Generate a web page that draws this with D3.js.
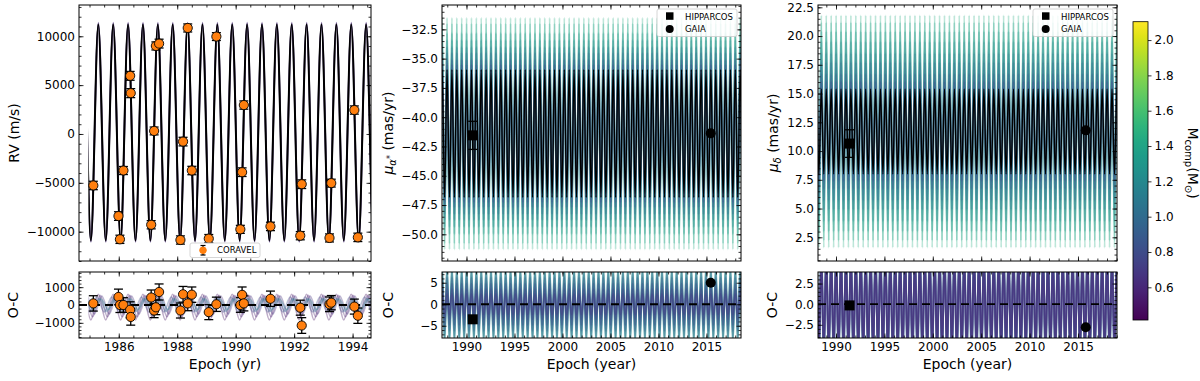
<!DOCTYPE html>
<html>
<head>
<meta charset="utf-8">
<script src="https://cdn.jsdelivr.net/npm/d3@7"></script>
<style>
  body { margin: 0; background: #fff; }
  text { font-family: "DejaVu Sans", sans-serif; }
</style>
</head>
<body>
<svg id="fig" width="1200" height="381"></svg>
<script>
// ---- data ----
var rvEpoch = [1985.13, 1985.99, 1986.04, 1986.16, 1986.39, 1986.41, 1987.11, 1987.21, 1987.27, 1987.38,
               1988.11, 1988.20, 1988.36, 1988.50, 1989.08, 1989.34, 1990.16, 1990.22, 1990.28, 1991.19,
               1992.21, 1992.26, 1993.21, 1993.27, 1994.06, 1994.18];
var rvValue = [-5270, -8400, -10780, -3740, 5950, 4180, -9290, 310, 9010, 9250,
               -10850, -780, 10850, -3740, -10710, 9970, -9760, -3910, 2960, -9460,
               -10410, -5140, -10640, -5030, 2450, -10580];
var rvResid = [90, 450, 0, 0, -270, -670, 420, -310, -130, 730,
               -310, 600, 90, 580, -400, 40, 0, 570, 90, 350,
               -150, -1150, 40, 130, -90, -600];
var rvErr = [430, 440, 420, 410, 450, 460, 420, 400, 410, 450,
             420, 440, 410, 430, 420, 400, 410, 440, 420, 430,
             420, 440, 410, 400, 420, 430];

// orbit model (best fit)
var orbitPeriod = 0.509;
var rvPeakEpoch = 1985.30;
var rvPeak = 11200, rvTrough = -10900;
var modelStart = 1984.96;
// faint posterior RV samples: [peak, trough, epoch shift]
var rvSamples = [[11400, -11050, 0.004], [11050, -10750, -0.003], [11300, -11000, 0.002]];

// RV residual samples
var ocRvMass = [0.5, 0.55, 0.65, 0.8, 1.0, 1.2];
var ocRvAmp = [720, 600, 500, 420, 360, 300];
var ocRvCenter = [-120, -60, 0, 30, 0, 40];
var ocRvShift = [0.0, 0.06, 0.12, -0.05, 0.03, 0.09];

// proper-motion posterior samples
var pmEpoch = 1985.43;
var sampleMass = [1.45, 1.38, 1.28, 1.18, 1.05, 0.95, 0.85, 0.75];
var pmraAmp = [9.9, 9.4, 8.6, 8.0, 7.4, 6.9, 6.3, 5.9];
var pmdecAmp = [10.1, 9.5, 8.7, 7.8, 6.8, 6.0, 5.0, 4.3];
var pmraCenter = -41.4, pmraBestAmp = 5.45;
var pmdecCenter = 11.7, pmdecBestAmp = 3.7;

var ocRaMass = [1.3, 1.15, 1.0, 0.9, 0.82, 0.76, 0.7];
var ocRaAmp = [9.5, 8.6, 7.6, 6.2, 4.8, 3.5, 2.4];
var ocDecMass = [1.1, 0.95, 0.85, 0.78, 0.72, 0.66, 0.6];
var ocDecAmp = [9.0, 8.0, 7.2, 6.5, 5.8, 5.2, 4.6];

// HIPPARCOS, GAIA
var raEpoch = [1990.65, 2015.45];
var raValue = [-41.55, -41.38];
var raErr = [1.2, 0.05];
var raResid = [-3.5, 5.0];
var decEpoch = [1991.4, 2015.8];
var decValue = [10.65, 11.8];
var decErr = [1.2, 0.05];
var decResid = [-0.15, -2.8];

// ticks
var rvXTicks = [1986, 1988, 1990, 1992, 1994];
var rvYTicks = [-10000, -5000, 0, 5000, 10000];
var rvOcTicks = [-1000, 0, 1000];
var pmXTicks = [1990, 1995, 2000, 2005, 2010, 2015];
var raYTicks = [-50, -47.5, -45, -42.5, -40, -37.5, -35, -32.5];
var raOcTicks = [-5, 0, 5];
var decYTicks = [2.5, 5, 7.5, 10, 12.5, 15, 17.5, 20, 22.5];
var decOcTicks = [-2.5, 0, 2.5];
var cbTicks = [0.6, 0.8, 1.0, 1.2, 1.4, 1.6, 1.8, 2.0];

// ---- layout ----
var svg = d3.select("#fig");
var cols = [[79, 371], [442, 741], [818, 1117]];
var topY = [5, 261], botY = [272, 338];
var cmap = d3.scaleSequential(d3.interpolateViridis).domain([0.415, 2.104]);
var clipN = 0;

function minors(domain, step) {
    var a = Math.ceil(domain[0] / step - 1e-9), b = Math.floor(domain[1] / step + 1e-9);
    return d3.range(a, b + 1).map(function (k) { return +(k * step).toFixed(6); });
}

function makePanel(col, rows, xDom, yDom) {
    var w = col[1] - col[0], h = rows[1] - rows[0];
    var g = svg.append("g").attr("transform", "translate(" + col[0] + "," + rows[0] + ")");
    var x = d3.scaleLinear().domain(xDom).range([0, w]);
    var y = d3.scaleLinear().domain(yDom).range([h, 0]);
    var id = "clip" + (clipN++);
    g.append("clipPath").attr("id", id).append("rect").attr("width", w).attr("height", h);
    var plot = g.append("g").attr("clip-path", "url(#" + id + ")");
    return { g: g, plot: plot, x: x, y: y, w: w, h: h };
}

function styleAxis(sel) {
    sel.select(".domain").remove();
    sel.selectAll("line").attr("stroke", "#000").attr("stroke-width", 0.8);
    sel.selectAll("text").attr("font-size", 12).attr("font-family", "DejaVu Sans").attr("fill", "#000");
}

function axes(p, xTicks, xMinor, yTicks, yMinor, xFmt, yFmt) {
    var g = p.g;
    g.append("g").attr("transform", "translate(0," + p.h + ")")
        .call(d3.axisBottom(p.x).tickValues(xMinor).tickSize(-2.5).tickFormat("")).call(styleAxis);
    g.append("g").attr("transform", "translate(0," + p.h + ")")
        .call(d3.axisBottom(p.x).tickValues(xTicks).tickSize(-4.5).tickPadding(4).tickFormat(xFmt || "")).call(styleAxis);
    g.append("g").call(d3.axisTop(p.x).tickValues(xMinor).tickSize(-2.5).tickFormat("")).call(styleAxis);
    g.append("g").call(d3.axisTop(p.x).tickValues(xTicks).tickSize(-4.5).tickFormat("")).call(styleAxis);
    g.append("g").call(d3.axisLeft(p.y).tickValues(yMinor).tickSize(-2.5).tickFormat("")).call(styleAxis);
    g.append("g").call(d3.axisLeft(p.y).tickValues(yTicks).tickSize(-4.5).tickPadding(4).tickFormat(yFmt)).call(styleAxis);
    g.append("g").attr("transform", "translate(" + p.w + ",0)")
        .call(d3.axisRight(p.y).tickValues(yMinor).tickSize(-2.5).tickFormat("")).call(styleAxis);
    g.append("g").attr("transform", "translate(" + p.w + ",0)")
        .call(d3.axisRight(p.y).tickValues(yTicks).tickSize(-4.5).tickFormat("")).call(styleAxis);
    g.append("rect").attr("width", p.w).attr("height", p.h)
        .attr("fill", "none").attr("stroke", "#000").attr("stroke-width", 1);
}

// alternating extremes of the orbit, one every half period
function extremes(xDom, epoch, hi, lo) {
    var half = orbitPeriod / 2;
    var k0 = Math.floor((xDom[0] - epoch) / half) - 1, k1 = Math.ceil((xDom[1] - epoch) / half) + 1;
    return d3.range(k0, k1 + 1).map(function (k) {
        return [epoch + k * half, Math.abs(k) % 2 === 0 ? hi : lo];
    });
}

function orbitLine(p) {
    return d3.line().x(function (d) { return p.x(d[0]); }).y(function (d) { return p.y(d[1]); })
        .curve(d3.curveMonotoneX);
}

function zeroLine(p) {
    p.plot.append("line").attr("x1", 0).attr("x2", p.w).attr("y1", p.y(0)).attr("y2", p.y(0))
        .attr("stroke", "#000").attr("stroke-width", 1.8).attr("stroke-dasharray", "8,5");
}

function errBars(p, xs, ys, es, cap) {
    xs.forEach(function (t, i) {
        var cx = p.x(t), y0 = p.y(ys[i] - es[i]), y1 = p.y(ys[i] + es[i]);
        p.plot.append("line").attr("x1", cx).attr("x2", cx).attr("y1", y0).attr("y2", y1)
            .attr("stroke", "#000").attr("stroke-width", 1.3);
        [y0, y1].forEach(function (yy) {
            p.plot.append("line").attr("x1", cx - cap).attr("x2", cx + cap).attr("y1", yy).attr("y2", yy)
                .attr("stroke", "#000").attr("stroke-width", 1.3);
        });
    });
}

function astroMarks(p, xs, ys) {
    p.plot.append("rect").attr("x", p.x(xs[0]) - 5).attr("y", p.y(ys[0]) - 5)
        .attr("width", 10).attr("height", 10).attr("fill", "#000");
    p.plot.append("circle").attr("cx", p.x(xs[1])).attr("cy", p.y(ys[1])).attr("r", 5).attr("fill", "#000");
}

function astroLegend(p) {
    var lg = p.g.append("g").attr("transform", "translate(" + (p.w - 84) + ",4)");
    lg.append("rect").attr("width", 80).attr("height", 27.5).attr("rx", 2)
        .attr("fill", "#fff").attr("fill-opacity", 0.85).attr("stroke", "#ccc").attr("stroke-width", 0.8);
    lg.append("rect").attr("x", 9).attr("y", 3.3).attr("width", 7.5).attr("height", 7.5).attr("fill", "#000");
    lg.append("circle").attr("cx", 12.7).attr("cy", 20).attr("r", 4).attr("fill", "#000");
    lg.append("text").attr("x", 28).attr("y", 10.5).attr("font-size", 8.5).text("HIPPARCOS");
    lg.append("text").attr("x", 28).attr("y", 23).attr("font-size", 8.5).text("GAIA");
}

function yLabel(x, y, build) {
    var t = svg.append("text").attr("transform", "translate(" + x + "," + y + ") rotate(-90)")
        .attr("text-anchor", "middle").attr("font-size", 14);
    build(t);
}

function xLabel(x, txt) {
    svg.append("text").attr("x", x).attr("y", 369).attr("text-anchor", "middle")
        .attr("font-size", 14).text(txt);
}

var fmtD = d3.format("d"), fmt1 = d3.format(".1f");

// ---- RV panel ----
var rvX = [1984.64, 1994.63];
var pRv = makePanel(cols[0], topY, rvX, [-13000, 13200]);
rvSamples.forEach(function (s) {
    pRv.plot.append("path").datum(extremes(rvX, rvPeakEpoch + s[2], s[0], s[1]))
        .attr("d", orbitLine(pRv)).attr("fill", "none")
        .attr("stroke", cmap(0.6)).attr("stroke-opacity", 0.5).attr("stroke-width", 1.6);
});
pRv.plot.append("path").datum(extremes(rvX, rvPeakEpoch, rvPeak, rvTrough))
    .attr("d", orbitLine(pRv)).attr("fill", "none").attr("stroke", "#000").attr("stroke-width", 2);
// model starts at modelStart: mask the part before
pRv.plot.append("rect").attr("x", 0).attr("y", 0).attr("width", pRv.x(modelStart)).attr("height", pRv.h).attr("fill", "#fff");
errBars(pRv, rvEpoch, rvValue, rvErr, 4.5);
pRv.plot.selectAll(".rvpt").data(rvEpoch).enter().append("circle")
    .attr("cx", function (d) { return pRv.x(d); })
    .attr("cy", function (d, i) { return pRv.y(rvValue[i]); })
    .attr("r", 4.6).attr("fill", "#ff7f0e").attr("stroke", "#000").attr("stroke-width", 0.9);
axes(pRv, rvXTicks, minors(rvX, 0.5), rvYTicks, minors([-13000, 13200], 1000), null, fmtD);
var lgc = pRv.g.append("g").attr("transform", "translate(" + (190 - cols[0][0]) + "," + (243 - topY[0]) + ")");
lgc.append("rect").attr("width", 70).attr("height", 14.5).attr("rx", 2)
    .attr("fill", "#fff").attr("fill-opacity", 0.85).attr("stroke", "#ccc").attr("stroke-width", 0.8);
lgc.append("line").attr("x1", 13).attr("x2", 13).attr("y1", 2.5).attr("y2", 12).attr("stroke", "#000").attr("stroke-width", 1.2);
lgc.append("line").attr("x1", 10.5).attr("x2", 15.5).attr("y1", 2.5).attr("y2", 2.5).attr("stroke", "#000").attr("stroke-width", 1.2);
lgc.append("line").attr("x1", 10.5).attr("x2", 15.5).attr("y1", 12).attr("y2", 12).attr("stroke", "#000").attr("stroke-width", 1.2);
lgc.append("circle").attr("cx", 13).attr("cy", 7.3).attr("r", 3.3).attr("fill", "#ff7f0e").attr("stroke", "#ff7f0e");
lgc.append("text").attr("x", 27).attr("y", 10.3).attr("font-size", 8.5).text("CORAVEL");

// ---- RV O-C ----
var pRvOc = makePanel(cols[0], botY, rvX, [-1850, 1850]);
ocRvMass.forEach(function (m, i) {
    pRvOc.plot.append("path")
        .datum(extremes(rvX, rvPeakEpoch + ocRvShift[i], ocRvCenter[i] + ocRvAmp[i], ocRvCenter[i] - ocRvAmp[i]))
        .attr("d", orbitLine(pRvOc)).attr("fill", "none")
        .attr("stroke", cmap(m)).attr("stroke-opacity", 0.35).attr("stroke-width", 1.6);
});
pRvOc.plot.append("rect").attr("x", 0).attr("y", 0).attr("width", pRvOc.x(modelStart)).attr("height", pRvOc.h).attr("fill", "#fff");
zeroLine(pRvOc);
errBars(pRvOc, rvEpoch, rvResid, rvErr, 4.5);
pRvOc.plot.selectAll(".ocpt").data(rvEpoch).enter().append("circle")
    .attr("cx", function (d) { return pRvOc.x(d); })
    .attr("cy", function (d, i) { return pRvOc.y(rvResid[i]); })
    .attr("r", 4.6).attr("fill", "#ff7f0e").attr("stroke", "#000").attr("stroke-width", 0.9);
axes(pRvOc, rvXTicks, minors(rvX, 0.5), rvOcTicks, minors([-1850, 1850], 200), fmtD, fmtD);

// ---- proper motion panels ----
function pmPanels(col, xDom, yDom, ocDom, center, amps, bestAmp, ocMass, ocAmp,
                  ep, val, err, resid, yTicks) {
    var p = makePanel(col, topY, xDom, yDom);
    sampleMass.forEach(function (m, i) {
        p.plot.append("path").datum(extremes(xDom, pmEpoch, center + amps[i], center - amps[i]))
            .attr("d", orbitLine(p)).attr("fill", "none")
            .attr("stroke", cmap(m)).attr("stroke-opacity", 0.3).attr("stroke-width", 1.9);
    });
    p.plot.append("path").datum(extremes(xDom, pmEpoch, center + bestAmp, center - bestAmp))
        .attr("d", orbitLine(p)).attr("fill", "none").attr("stroke", "#000").attr("stroke-width", 1.4);
    errBars(p, [ep[0]], [val[0]], [err[0]], 4.5);
    astroMarks(p, ep, val);
    axes(p, pmXTicks, minors(xDom, 1), yTicks, minors(yDom, 0.5), null, fmt1);
    astroLegend(p);

    var q = makePanel(col, botY, xDom, ocDom);
    ocMass.forEach(function (m, i) {
        q.plot.append("path").datum(extremes(xDom, pmEpoch, ocAmp[i], -ocAmp[i]))
            .attr("d", orbitLine(q)).attr("fill", "none")
            .attr("stroke", cmap(m)).attr("stroke-opacity", 0.4).attr("stroke-width", 1.9);
    });
    zeroLine(q);
    astroMarks(q, ep, resid);
    return { top: p, bot: q };
}

var ra = pmPanels(cols[1], [1987.45, 2018.6], [-52.28, -30.42], [-7.85, 7.5], pmraCenter, pmraAmp, pmraBestAmp,
    ocRaMass, ocRaAmp, raEpoch, raValue, raErr, raResid, raYTicks);
axes(ra.bot, pmXTicks, minors([1987.45, 2018.6], 1), raOcTicks, minors([-7.85, 7.5], 1), fmtD, fmtD);

var dec = pmPanels(cols[2], [1988.14, 2019.03], [0.44, 22.7], [-4.1, 3.9], pmdecCenter, pmdecAmp, pmdecBestAmp,
    ocDecMass, ocDecAmp, decEpoch, decValue, decErr, decResid, decYTicks);
axes(dec.bot, pmXTicks, minors([1988.14, 2019.03], 1), decOcTicks, minors([-4.1, 3.9], 0.5), fmtD, fmt1);

// ---- labels ----
yLabel(19, 133, function (t) { t.text("RV (m/s)"); });
yLabel(18, 305, function (t) { t.text("O-C"); });
yLabel(393, 133, function (t) {
    t.append("tspan").attr("font-style", "italic").text("μ");
    t.append("tspan").attr("font-size", 10).attr("font-style", "italic").attr("dy", 3).text("α");
    t.append("tspan").attr("font-size", 8).attr("dy", -3).text("*");
    t.append("tspan").text(" (mas/yr)");
});
yLabel(393, 305, function (t) { t.text("O-C"); });
yLabel(778, 133, function (t) {
    t.append("tspan").attr("font-style", "italic").text("μ");
    t.append("tspan").attr("font-size", 10).attr("font-style", "italic").attr("dy", 3).text("δ");
    t.append("tspan").attr("dy", -3).text(" (mas/yr)");
});
yLabel(777, 305, function (t) { t.text("O-C"); });
xLabel((cols[0][0] + cols[0][1]) / 2, "Epoch (yr)");
xLabel((cols[1][0] + cols[1][1]) / 2, "Epoch (year)");
xLabel((cols[2][0] + cols[2][1]) / 2, "Epoch (year)");

// ---- colorbar ----
var cbDom = [0.415, 2.104];
var grad = svg.append("defs").append("linearGradient").attr("id", "vir")
    .attr("x1", 0).attr("y1", 1).attr("x2", 0).attr("y2", 0);
d3.range(0, 1.0001, 0.05).forEach(function (t) {
    grad.append("stop").attr("offset", t).attr("stop-color", d3.interpolateViridis(t));
});
var cbY = d3.scaleLinear().domain(cbDom).range([320, 21.7]);
svg.append("rect").attr("x", 1133).attr("y", 21.7).attr("width", 15).attr("height", 320 - 21.7)
    .attr("fill", "url(#vir)").attr("stroke", "#000").attr("stroke-width", 0.8);
svg.append("g").attr("transform", "translate(1148,0)")
    .call(d3.axisRight(cbY).tickValues(cbTicks).tickSize(3.5).tickPadding(3).tickFormat(fmt1)).call(styleAxis);
var cbl = svg.append("text").attr("transform", "translate(1188,163) rotate(90)")
    .attr("text-anchor", "middle").attr("font-size", 14);
cbl.append("tspan").text("M");
cbl.append("tspan").attr("font-size", 10).attr("dy", 3).text("comp");
cbl.append("tspan").attr("dy", -3).text("(M");
cbl.append("tspan").attr("font-size", 10).attr("dy", 3).text("⊙");
cbl.append("tspan").attr("dy", -3).text(")");
</script>
</body>
</html>
